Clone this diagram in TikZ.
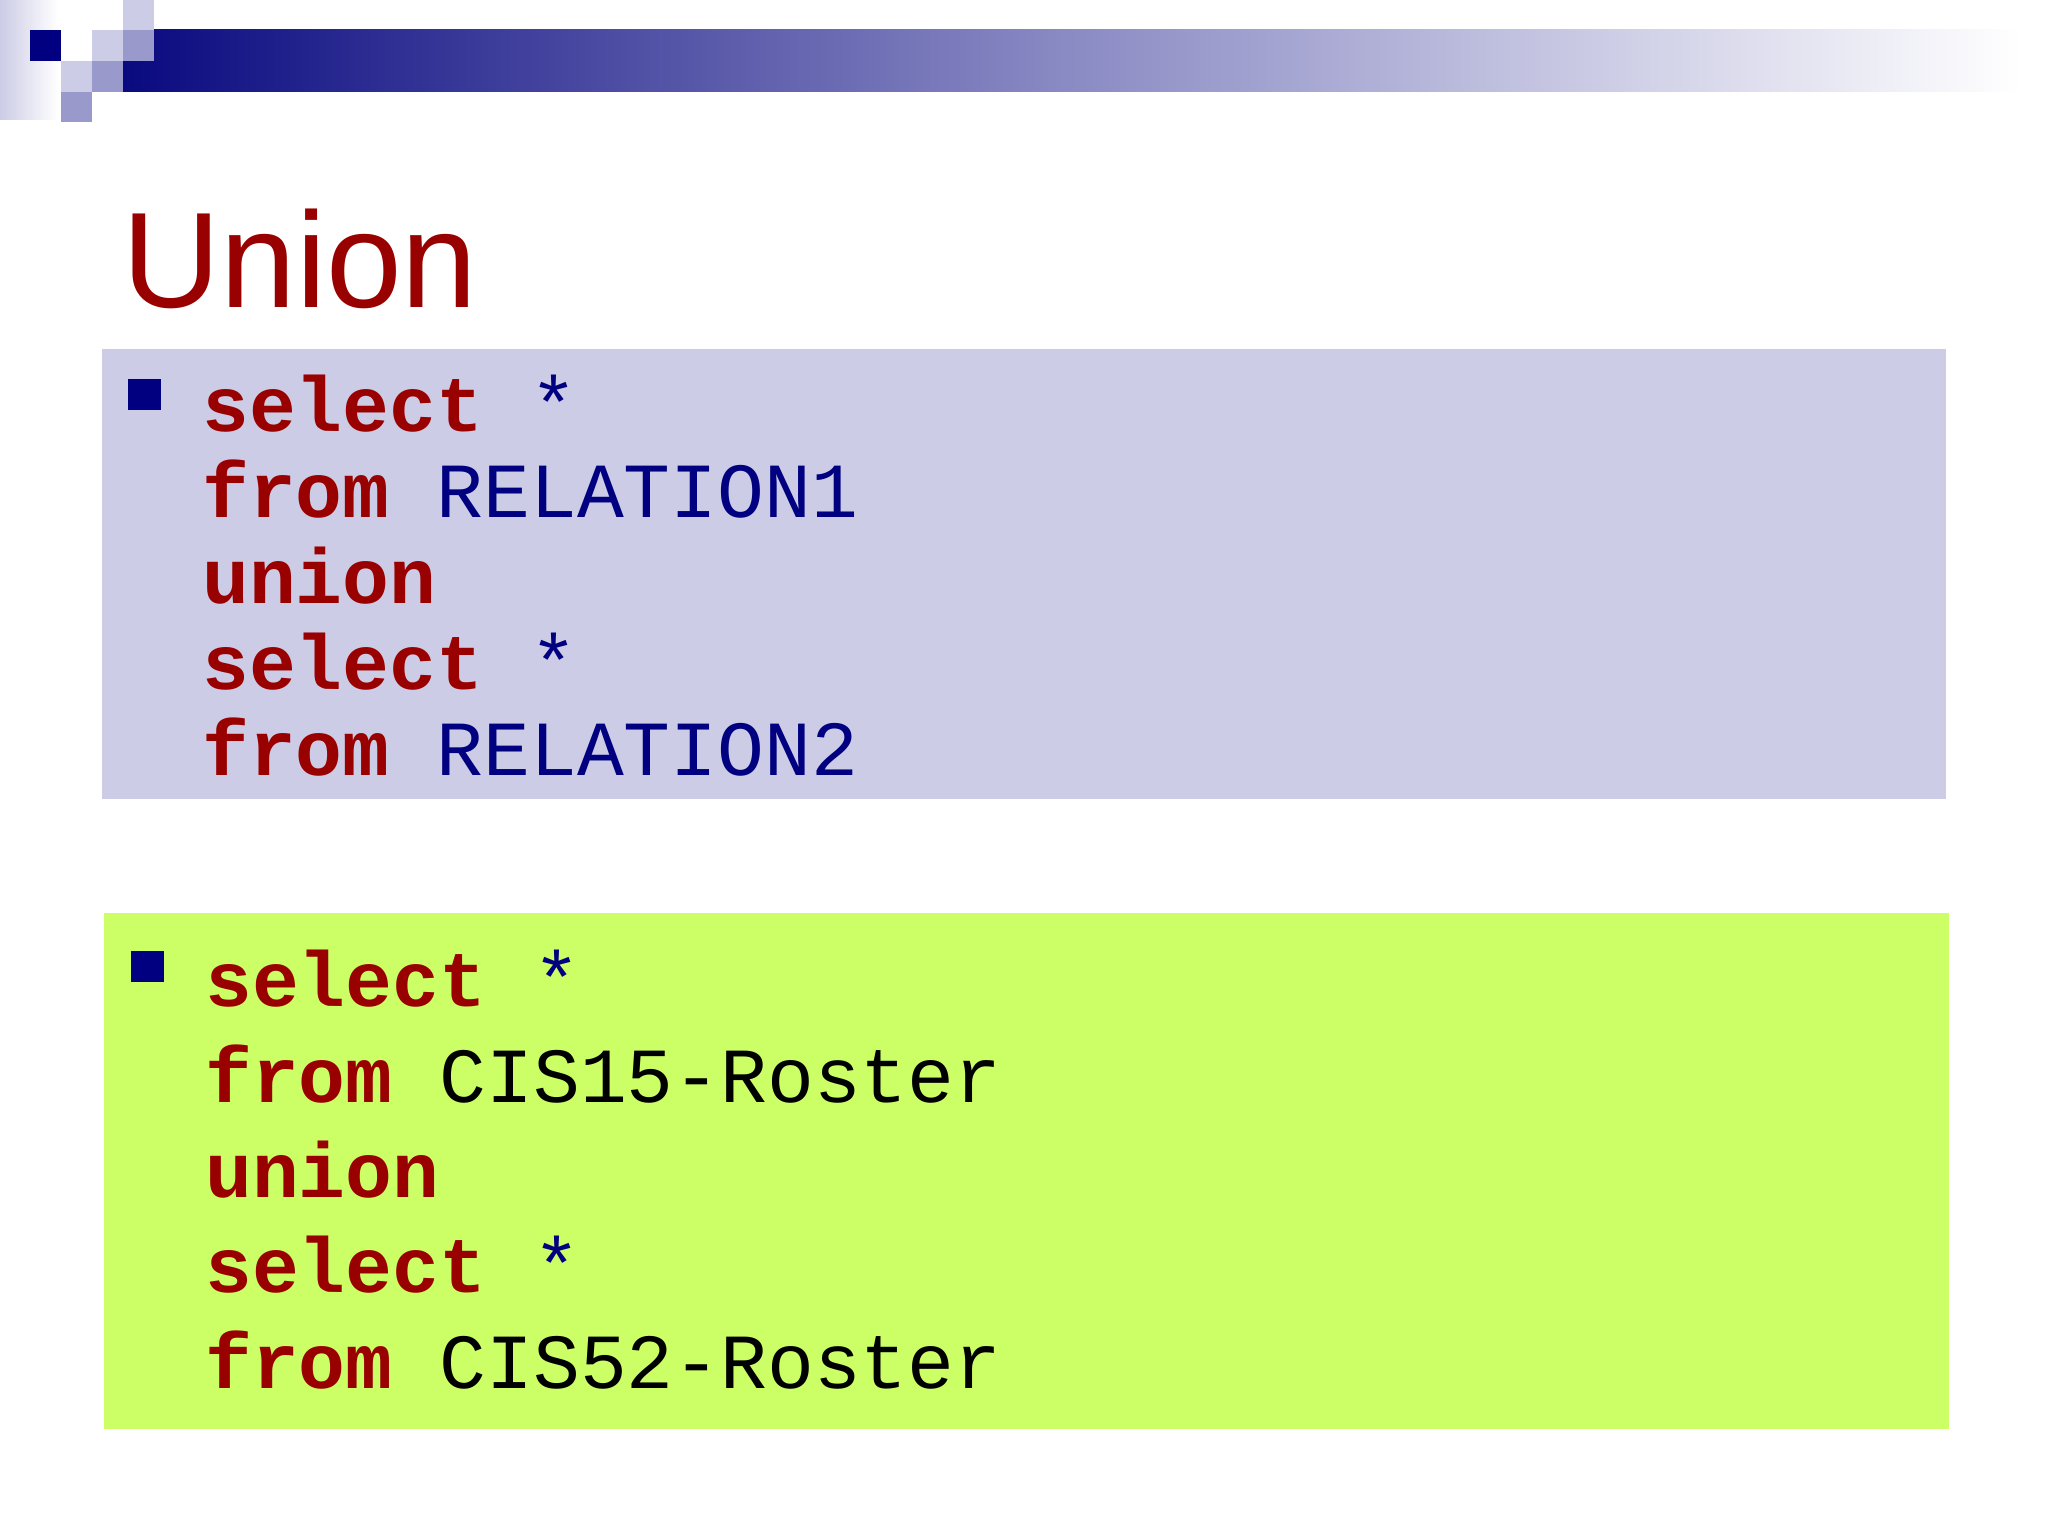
\documentclass[tikz,border=0pt]{standalone}
\usepackage{fontspec}
\setmainfont{Liberation Sans}
\setmonofont{Liberation Mono}
\begin{document}
\begin{tikzpicture}[x=1pt,y=-1pt,
  code/.style={anchor=base west,inner sep=0pt,font=\ttfamily\fontsize{78}{86}\selectfont},
  kw/.style={code,text=kwred,font=\ttfamily\bfseries\fontsize{78}{86}\selectfont},
  bul/.style={fill=navy}]
\definecolor{kwred}{HTML}{990000}
\definecolor{navy}{HTML}{000080}
\definecolor{lav}{HTML}{CCCCE6}
\definecolor{medl}{HTML}{9999CC}
\definecolor{barblue}{HTML}{0A0A80}
\definecolor{lgreen}{HTML}{CCFF66}
\useasboundingbox (0,0) rectangle (2048,1536);
\fill[white] (0,0) rectangle (2048,1536);
% header decoration
\shade[left color=lav,right color=white] (0,0) rectangle (58,120);
\shade[left color=barblue,right color=white,middle color=medl!90!barblue] (123,30) rectangle (2020,92);
\fill[lav] (123,0) rectangle (154,30);
\fill[navy] (30,30) rectangle (61,61);
\fill[lav] (92,30) rectangle (123,61);
\fill[medl] (123,30) rectangle (154,61);
\fill[lav] (61,61) rectangle (92,92);
\fill[medl] (92,61) rectangle (123,92);
\fill[medl] (61,92) rectangle (92,122);
% title
\node[anchor=base west,inner sep=0pt,text=kwred,font=\fontsize{136}{150}\selectfont] (title) at (122,307) {Union};
% blue box
\fill[lav] (102,349) rectangle (1946,799);
\fill[bul] (128,379) rectangle (161,410);
\node[kw] (a1) at (202,431) {select};
\node[code,text=navy] (a1s) at (a1.base east) {\ *};
\node[kw] (a2) at (202,517) {from};
\node[code,text=navy] (a2s) at (a2.base east) {\ RELATION1};
\node[kw] (a3) at (202,603) {union};
\node[kw] (a4) at (202,689) {select};
\node[code,text=navy] (a4s) at (a4.base east) {\ *};
\node[kw] (a5) at (202,775) {from};
\node[code,text=navy] (a5s) at (a5.base east) {\ RELATION2};
% green box
\fill[lgreen] (104,913) rectangle (1949,1429);
\fill[bul] (131,951) rectangle (164,982);
\node[kw] (b1) at (205,1006) {select};
\node[code,text=navy] (b1s) at (b1.base east) {\ *};
\node[kw] (b2) at (205,1102) {from};
\node[code,text=black] (b2s) at (b2.base east) {\ CIS15-Roster};
\node[kw] (b3) at (205,1197) {union};
\node[kw] (b4) at (205,1292) {select};
\node[code,text=navy] (b4s) at (b4.base east) {\ *};
\node[kw] (b5) at (205,1388) {from};
\node[code,text=black] (b5s) at (b5.base east) {\ CIS52-Roster};
\end{tikzpicture}
\end{document}
